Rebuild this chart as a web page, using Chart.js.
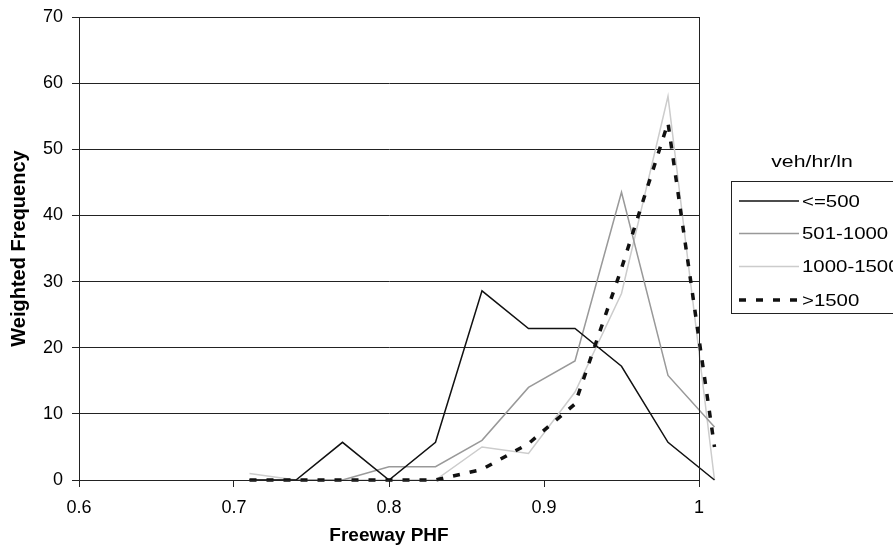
<!DOCTYPE html>
<html>
<head>
<meta charset="utf-8">
<script src="https://cdn.jsdelivr.net/npm/chart.js@4.4.0/dist/chart.umd.min.js"></script>
<style>
  html, body { margin: 0; padding: 0; background: #fff; }
  #wrap { width: 893px; height: 550px; }
</style>
</head>
<body>
<div id="wrap"><canvas id="phfChart" width="893" height="550"></canvas></div>
<script>
var phf = [0.71, 0.74, 0.77, 0.80, 0.83, 0.86, 0.89, 0.92, 0.95, 0.98, 1.01];
var upTo500 = [0, 0, 5.7, 0, 5.7, 28.6, 22.9, 22.9, 17.2, 5.7, 0];
var from501To1000 = [0, 0, 0, 2, 2, 6, 14, 18, 43.5, 15.8, 8];
var from1000To1500 = [1, 0, 0, 0, 0, 5, 4, 13.3, 28.2, 58, 0];
var over1500 = [0, 0, 0, 0, 0, 1.6, 5.5, 11.5, 32, 54, 5];
var seriesNames = ['<=500', '501-1000', '1000-1500', '>1500'];
var legendTitle = 'veh/hr/ln';

function toPoints(vals) {
    return vals.map(function(v, i) { return { x: phf[i], y: v }; });
}

var fontName = '"Liberation Sans", Arial, sans-serif';

// text in the legend is a bit wide in the original, so stretch it a little
function wideText(ctx, txt, x, y, sx) {
    ctx.save();
    ctx.translate(x, y);
    ctx.scale(sx, 1);
    ctx.fillText(txt, 0, 0);
    ctx.restore();
}

// frame round the plot + the legend box on the right
var framePlugin = {
    id: 'frame',
    afterDatasetsDraw: function(chart) {
        var ctx = chart.ctx;
        var a = chart.chartArea;
        ctx.save();
        ctx.strokeStyle = '#222';
        ctx.lineWidth = 1;
        ctx.strokeRect(a.left + 0.5, a.top + 0.5, a.right - a.left, a.bottom - a.top);
        ctx.restore();
    },
    afterDraw: function(chart) {
        var ctx = chart.ctx;
        ctx.save();
        ctx.fillStyle = '#000';
        ctx.font = '17px ' + fontName;
        ctx.textAlign = 'center';
        ctx.textBaseline = 'middle';
        wideText(ctx, legendTitle, 812, 162, 1.25);

        ctx.strokeStyle = '#222';
        ctx.lineWidth = 1;
        ctx.strokeRect(731.5, 181.5, 170, 132);

        var rows = [201, 233.5, 266.5, 300];
        ctx.textAlign = 'left';
        chart.data.datasets.forEach(function(ds, i) {
            var y = rows[i];
            ctx.beginPath();
            ctx.strokeStyle = ds.borderColor;
            ctx.lineWidth = ds.borderWidth;
            ctx.setLineDash(ds.borderDash || []);
            ctx.moveTo(739, y);
            ctx.lineTo(799, y);
            ctx.stroke();
            ctx.setLineDash([]);
            ctx.fillStyle = '#000';
            wideText(ctx, ds.label, 802, y + 1, 1.2);
        });
        ctx.restore();
    }
};

var ctx = document.getElementById('phfChart').getContext('2d');
var phfChart = new Chart(ctx, {
    type: 'scatter',
    data: {
        datasets: [
            {
                label: seriesNames[0],
                data: toPoints(upTo500),
                borderColor: '#111',
                borderWidth: 1.5,
                order: 1
            },
            {
                label: seriesNames[1],
                data: toPoints(from501To1000),
                borderColor: '#999',
                borderWidth: 1.5,
                order: 2
            },
            {
                label: seriesNames[2],
                data: toPoints(from1000To1500),
                borderColor: '#ccc',
                borderWidth: 1.5,
                order: 3
            },
            {
                label: seriesNames[3],
                data: toPoints(over1500),
                borderColor: '#111',
                borderWidth: 3.5,
                borderDash: [7, 10],
                order: 0
            }
        ]
    },
    options: {
        responsive: false,
        animation: false,
        showLine: true,
        clip: false,
        elements: {
            point: { radius: 0, hoverRadius: 0 },
            line: { tension: 0, borderCapStyle: 'butt' }
        },
        layout: { padding: { top: 17, right: 194, left: 0, bottom: 0 } },
        plugins: {
            legend: { display: false },
            tooltip: { enabled: false }
        },
        scales: {
            x: {
                type: 'linear',
                min: 0.6,
                max: 1,
                afterFit: function(scale) {
                    scale.height = 70;
                    scale.paddingLeft = 0;
                    scale.paddingRight = 0;
                },
                ticks: {
                    stepSize: 0.1,
                    color: '#000',
                    padding: 10,
                    font: { family: fontName, size: 18 },
                    callback: function(v) { return String(Number(v.toFixed(1))); }
                },
                grid: {
                    drawOnChartArea: false,
                    drawTicks: true,
                    tickLength: 7,
                    color: '#222'
                },
                border: { color: '#222', width: 1 },
                title: {
                    display: true,
                    text: 'Freeway PHF',
                    color: '#000',
                    font: { family: fontName, size: 19, weight: 'bold' },
                    padding: { top: 4, bottom: 3 }
                }
            },
            y: {
                min: 0,
                max: 70,
                afterFit: function(scale) {
                    scale.width = 79;
                    scale.paddingTop = 0;
                    scale.paddingBottom = 0;
                },
                ticks: {
                    stepSize: 10,
                    color: '#000',
                    padding: 9,
                    font: { family: fontName, size: 18 }
                },
                grid: {
                    color: '#222',
                    lineWidth: 1,
                    tickLength: 7
                },
                border: { color: '#222', width: 1 },
                title: {
                    display: true,
                    text: 'Weighted Frequency',
                    color: '#000',
                    font: { family: fontName, size: 20, weight: 'bold' },
                    padding: { top: 7, bottom: 4 }
                }
            }
        }
    },
    plugins: [framePlugin]
});
</script>
</body>
</html>
